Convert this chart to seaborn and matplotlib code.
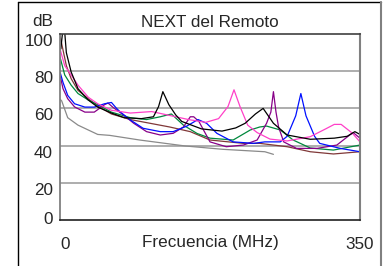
import numpy as np
import pandas as pd
import matplotlib
matplotlib.use("Agg")
import matplotlib.pyplot as plt
from matplotlib.lines import Line2D
import seaborn as sns

# ---- data ----
black_f = [1, 3, 5.5, 7.4, 13, 21, 33, 44, 60, 75, 95, 109, 115, 120, 127, 135, 142, 165, 189, 205, 216, 228, 237, 249, 265, 292, 320, 335, 344, 350]
black_db = [92, 101, 101, 90, 79.6, 70.6, 64.5, 60.7, 57.5, 55, 54.5, 55.5, 61, 69, 62, 56.5, 53, 49, 47.8, 49.5, 52, 57, 60, 52, 45.7, 43.4, 44, 45, 47.5, 46]

pink_f = [0, 5.5, 13, 21, 33, 44, 60, 82, 107, 130, 150, 170, 185, 196, 203, 210, 219, 230, 245, 265, 292, 310, 320, 328, 341, 350]
pink_db = [92, 83, 78, 72.5, 66, 62.5, 59, 57.5, 58.3, 56, 54, 52.5, 54.5, 61, 70, 61, 51, 47, 43.5, 42.5, 44.8, 49, 51.4, 51.4, 46.7, 42]

green_f = [0, 5.5, 13, 21, 33, 44, 60, 82, 101, 117, 130, 144, 160, 175, 202, 222, 233, 241, 257, 272, 292, 319, 350]
green_db = [87.6, 78, 72.5, 68, 64.5, 62, 58, 55, 54, 55.5, 57, 51, 46.5, 44, 43, 48.4, 50, 50.5, 48.4, 43, 38.7, 37.6, 40.3]

blue_f = [0, 3.5, 9, 17, 29, 40, 52, 60, 66, 70, 82, 97, 117, 132, 148, 161, 171, 183, 202, 226, 239, 257, 265, 275, 281, 287, 297, 303, 327, 350]
blue_db = [79.6, 74, 67, 62.5, 60.7, 60.7, 62.5, 63.2, 60, 58.2, 53.8, 49.3, 47.5, 47.5, 50.5, 54, 52, 46.6, 42, 41.2, 42, 42, 45, 56, 68, 56, 45, 41.2, 38.5, 36.7]

purple_f = [0, 3.5, 9, 17, 29, 40, 52, 56, 62, 74, 86, 101, 117, 132, 144, 152, 156, 162, 175, 194, 214, 230, 241, 246, 249, 252, 255, 261, 276, 300, 323, 338, 342, 350]
purple_db = [78, 70.6, 65.2, 60.8, 58, 58, 62, 62.9, 60.5, 56.5, 52, 47.5, 45.7, 46.6, 50, 55.5, 55.5, 53, 42, 39.4, 40.3, 43, 52, 58, 69, 58, 50, 42, 38.5, 38.5, 40.3, 45.7, 47, 44]

brown_f = [0, 7.4, 13, 21, 33, 44, 60, 82, 105, 128, 152, 175, 214, 233, 265, 292, 319, 350]
brown_db = [99, 83, 76, 69.7, 65.2, 61.3, 57, 54, 52, 50, 47.5, 43, 41.2, 41.2, 39.4, 36.7, 35.5, 36.7]

gray_f = [0, 2, 9, 21, 44, 58, 93, 146, 190, 239, 249]
gray_db = [65, 64, 55, 51, 46, 45.5, 43, 39.8, 38, 36.7, 35.3]

y_ticks = [0, 20, 40, 60, 80, 100]
x_ticks = [0, 350]
x_tick_labels = ["0", "350"]

series = {
    "gray": (gray_f, gray_db, "#8a8a8a"),
    "brown": (brown_f, brown_db, "#803838"),
    "green": (green_f, green_db, "#00883c"),
    "purple": (purple_f, purple_db, "#880088"),
    "blue": (blue_f, blue_db, "#0010ff"),
    "pink": (pink_f, pink_db, "#ff40c8"),
    "black": (black_f, black_db, "#000000"),
}

rows = []
for name, (fs, dbs, _) in series.items():
    for f, d in zip(fs, dbs):
        rows.append({"f": f, "dB": d, "series": name})
df = pd.DataFrame(rows)
palette = {k: v[2] for k, v in series.items()}

sns.set_style("white")
plt.rcParams["font.family"] = ["Liberation Sans", "DejaVu Sans"]

W, H = 391, 266
fig = plt.figure(figsize=(W / 100, H / 100), dpi=100)
ax = fig.add_axes([60 / W, (H - 220) / H, 300 / W, 186 / H])

sns.lineplot(data=df, x="f", y="dB", hue="series", palette=palette,
             estimator=None, sort=True, legend=False, linewidth=0.9, ax=ax)

ax.set_xlim(0, 350)
ax.set_ylim(0, 100)
ax.set_yticks(y_ticks)
ax.set_xticks(x_ticks)
ax.set_xticklabels(x_tick_labels)
for y in y_ticks[1:-1]:
    ax.axhline(y, color="#a0a0a0", lw=1.2, zorder=0)

fs = 12.3
ax.tick_params(axis="y", length=0, pad=5, labelsize=fs)
ax.tick_params(axis="x", length=0, pad=12.5, labelsize=fs)
for lab in ax.get_yticklabels():
    lab.set_va("top")
ax.get_yticklabels()[0].set_va("center")
ax.get_xticklabels()[0].set_ha("left")

for side, col, lw in [("left", "#808080", 1.3), ("right", "#808080", 1.5),
                      ("top", "#404040", 1.2), ("bottom", "#202020", 1.2)]:
    ax.spines[side].set_visible(True)
    ax.spines[side].set_color(col)
    ax.spines[side].set_linewidth(lw)

ax.set_ylabel("")
ax.set_xlabel("Frecuencia (MHz)", fontsize=fs)
ax.xaxis.set_label_coords(0.5, -0.078)
ax.set_title("NEXT del Remoto", fontsize=fs, pad=5)
fig.text(53 / W, 1 - 14.5 / H, "dB", ha="right", va="top", fontsize=fs)

# outer frame
fig.add_artist(Line2D([17.5 / W, 17.5 / W], [0, 1 - 1.5 / H], color="black", lw=1.0, transform=fig.transFigure))
fig.add_artist(Line2D([17.5 / W, 380.5 / W], [1 - 1.5 / H, 1 - 1.5 / H], color="black", lw=1.0, transform=fig.transFigure))
fig.add_artist(Line2D([380.5 / W, 380.5 / W], [0, 1 - 1.5 / H], color="#808080", lw=1.5, transform=fig.transFigure))

fig.savefig("out.png", dpi=100)
